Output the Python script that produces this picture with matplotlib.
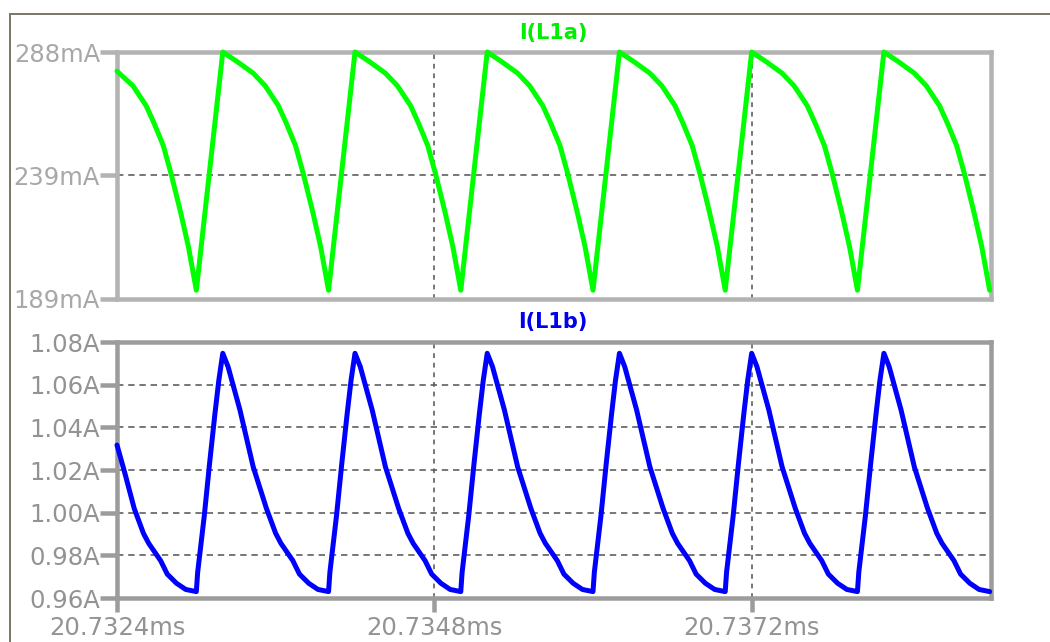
import matplotlib
matplotlib.use("Agg")
import matplotlib.pyplot as plt
from matplotlib.lines import Line2D
import numpy as np

# ---- waveform data (time in microseconds after 20.7324 ms) ----
T0_MS = 20.7324

t_l1a_us = [
    0.00, 0.12, 0.22, 0.28, 0.35, 0.41, 0.48, 0.54, 0.60, 0.80,
    0.91, 1.03, 1.12, 1.22, 1.28, 1.35, 1.41, 1.48, 1.54, 1.60, 1.80,
    1.91, 2.03, 2.12, 2.22, 2.28, 2.35, 2.41, 2.48, 2.54, 2.60, 2.80,
    2.91, 3.03, 3.12, 3.22, 3.28, 3.35, 3.41, 3.48, 3.54, 3.60, 3.80,
    3.91, 4.03, 4.12, 4.22, 4.28, 4.35, 4.41, 4.48, 4.54, 4.60, 4.80,
    4.91, 5.03, 5.12, 5.22, 5.28, 5.35, 5.41, 5.48, 5.54, 5.60, 5.80,
    5.91, 6.03, 6.12, 6.22, 6.28, 6.35, 6.41, 6.48, 6.54, 6.60,
]
i_l1a_ma = [
    280.3, 274.5, 266.5, 259.5, 250.5, 239.0, 224.0, 210.0, 192.5, 288.0,
    284.1, 279.5, 274.5, 266.5, 259.5, 250.5, 239.0, 224.0, 210.0, 192.5, 288.0,
    284.1, 279.5, 274.5, 266.5, 259.5, 250.5, 239.0, 224.0, 210.0, 192.5, 288.0,
    284.1, 279.5, 274.5, 266.5, 259.5, 250.5, 239.0, 224.0, 210.0, 192.5, 288.0,
    284.1, 279.5, 274.5, 266.5, 259.5, 250.5, 239.0, 224.0, 210.0, 192.5, 288.0,
    284.1, 279.5, 274.5, 266.5, 259.5, 250.5, 239.0, 224.0, 210.0, 192.5, 288.0,
    284.1, 279.5, 274.5, 266.5, 259.5, 250.5, 239.0, 224.0, 210.0, 192.5,
]

t_l1b_us = [
    0.00, 0.06, 0.13, 0.20, 0.24, 0.33, 0.38, 0.45, 0.52, 0.60,
    0.61, 0.66, 0.70, 0.74, 0.77, 0.80,
    0.84, 0.93, 1.03, 1.13, 1.20, 1.24, 1.33, 1.38, 1.45, 1.52, 1.60,
    1.61, 1.66, 1.70, 1.74, 1.77, 1.80,
    1.84, 1.93, 2.03, 2.13, 2.20, 2.24, 2.33, 2.38, 2.45, 2.52, 2.60,
    2.61, 2.66, 2.70, 2.74, 2.77, 2.80,
    2.84, 2.93, 3.03, 3.13, 3.20, 3.24, 3.33, 3.38, 3.45, 3.52, 3.60,
    3.61, 3.66, 3.70, 3.74, 3.77, 3.80,
    3.84, 3.93, 4.03, 4.13, 4.20, 4.24, 4.33, 4.38, 4.45, 4.52, 4.60,
    4.61, 4.66, 4.70, 4.74, 4.77, 4.80,
    4.84, 4.93, 5.03, 5.13, 5.20, 5.24, 5.33, 5.38, 5.45, 5.52, 5.60,
    5.61, 5.66, 5.70, 5.74, 5.77, 5.80,
    5.84, 5.93, 6.03, 6.13, 6.20, 6.24, 6.33, 6.38, 6.45, 6.52, 6.60,
]
i_l1b_a = [
    1.0317, 1.0184, 1.0020, 0.9903, 0.9856, 0.9775, 0.9712, 0.9669, 0.9640, 0.9630,
    0.9720, 0.9985, 1.0230, 1.0460, 1.0620, 1.0747,
    1.0684, 1.0481, 1.0215, 1.0020, 0.9903, 0.9856, 0.9775, 0.9712, 0.9669, 0.9640, 0.9630,
    0.9720, 0.9985, 1.0230, 1.0460, 1.0620, 1.0747,
    1.0684, 1.0481, 1.0215, 1.0020, 0.9903, 0.9856, 0.9775, 0.9712, 0.9669, 0.9640, 0.9630,
    0.9720, 0.9985, 1.0230, 1.0460, 1.0620, 1.0747,
    1.0684, 1.0481, 1.0215, 1.0020, 0.9903, 0.9856, 0.9775, 0.9712, 0.9669, 0.9640, 0.9630,
    0.9720, 0.9985, 1.0230, 1.0460, 1.0620, 1.0747,
    1.0684, 1.0481, 1.0215, 1.0020, 0.9903, 0.9856, 0.9775, 0.9712, 0.9669, 0.9640, 0.9630,
    0.9720, 0.9985, 1.0230, 1.0460, 1.0620, 1.0747,
    1.0684, 1.0481, 1.0215, 1.0020, 0.9903, 0.9856, 0.9775, 0.9712, 0.9669, 0.9640, 0.9630,
    0.9720, 0.9985, 1.0230, 1.0460, 1.0620, 1.0747,
    1.0684, 1.0481, 1.0215, 1.0020, 0.9903, 0.9856, 0.9775, 0.9712, 0.9669, 0.9640, 0.9630,
]

x_ticks_ms = [20.7324, 20.7348, 20.7372]
x_end_ms = 20.73901

a_ticks = [189.0, 238.5, 288.0]
a_tick_labels = ["189mA", "239mA", "288mA"]
b_ticks = [0.96, 0.98, 1.00, 1.02, 1.04, 1.06, 1.08]

# ---- figure layout in pixels ----
W, H, DPI = 1050, 642, 100
fig = plt.figure(figsize=(W / DPI, H / DPI), dpi=DPI)
fig.patch.set_facecolor("white")


def px_axes(x0, y0, x1, y1):
    return fig.add_axes([x0 / W, 1 - y1 / H, (x1 - x0) / W, (y1 - y0) / H])


ax_a = px_axes(117, 52, 991, 299)
ax_b = px_axes(117, 342, 991, 598)

PX = 72 / DPI  # points per pixel
GRID_COLOR = "#5a5a5a"


def style_axes(ax, frame_color, label_color):
    for s in ax.spines.values():
        s.set_color(frame_color)
        s.set_linewidth(4.5 * PX)
        s.set_capstyle("projecting")
    ax.tick_params(axis="y", direction="out", length=17 * PX, width=4.5 * PX,
                   color=frame_color, labelcolor=label_color, labelsize=17.5,
                   pad=0)
    ax.set_facecolor("white")


style_axes(ax_a, "#b3b3b3", "#a8a8a8")
style_axes(ax_b, "#9c9c9c", "#939393")

t_a = T0_MS + np.array(t_l1a_us) / 1000.0
t_b = T0_MS + np.array(t_l1b_us) / 1000.0

ax_a.plot(t_a, i_l1a_ma, color="#00ff00", lw=5 * PX, clip_on=False,
          zorder=5, solid_joinstyle="round", solid_capstyle="round")
ax_b.plot(t_b, i_l1b_a, color="#0000ff", lw=5 * PX, clip_on=False,
          zorder=5, solid_joinstyle="round", solid_capstyle="round")

for ax in (ax_a, ax_b):
    ax.set_xlim(x_ticks_ms[0], x_end_ms)

ax_a.set_ylim(a_ticks[0], a_ticks[-1])
ax_a.set_yticks(a_ticks)
ax_a.set_yticklabels(a_tick_labels)
ax_a.set_xticks(x_ticks_ms)
ax_a.tick_params(axis="x", length=0, labelbottom=False)

ax_b.set_ylim(b_ticks[0], b_ticks[-1])
ax_b.set_yticks(b_ticks)
ax_b.set_yticklabels([f"{v:.2f}A" for v in b_ticks])
ax_b.set_xticks(x_ticks_ms)
ax_b.set_xticklabels([f"{v:.4f}ms" for v in x_ticks_ms])
ax_b.tick_params(axis="x", direction="out", length=14 * PX, width=4.5 * PX,
                 color="#9c9c9c", labelcolor="#939393", labelsize=17.5, pad=3)

# dashed grid lines inside the plot area
for ax, yt in ((ax_a, a_ticks[1:-1]), (ax_b, b_ticks[1:-1])):
    for y in yt:
        ax.axhline(y, color=GRID_COLOR, lw=1.6 * PX, ls=(0, (4, 3)), zorder=1)
    for x in x_ticks_ms[1:]:
        ax.axvline(x, color=GRID_COLOR, lw=1.6 * PX, ls=(0, (3, 3)), zorder=1)

# trace titles
fig.text(553 / W, 1 - 33 / H, "I(L1a)", color="#00ee00", fontsize=15,
         fontweight="bold", ha="center", va="center")
fig.text(553 / W, 1 - 322 / H, "I(L1b)", color="#0000ee", fontsize=15,
         fontweight="bold", ha="center", va="center")

# window frame
frame_col = "#7d7868"
fig.add_artist(Line2D([10 / W, 10 / W], [1 - 14 / H, 0], color=frame_col,
                      lw=2 * PX, transform=fig.transFigure))
fig.add_artist(Line2D([10 / W, 1], [1 - 14 / H, 1 - 14 / H], color=frame_col,
                      lw=2 * PX, transform=fig.transFigure))

fig.savefig("out.png", dpi=DPI, facecolor="white")
